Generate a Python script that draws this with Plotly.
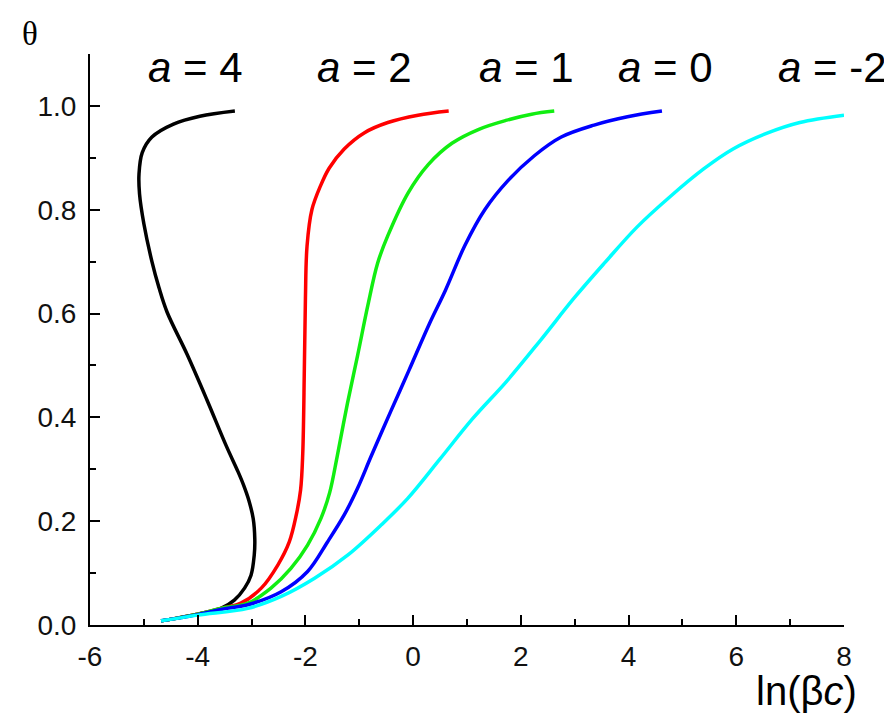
import plotly.graph_objects as go

# ---- data (x = ln(beta c), theta) ----
a_labels = ["<i>a</i> = 4", "<i>a</i> = 2", "<i>a</i> = 1", "<i>a</i> = 0", "<i>a</i> = -2"]
label_x = [-4.05, -0.91, 2.11, 4.68, 7.78]
label_y = [1.074, 1.074, 1.074, 1.074, 1.074]
colors = ["#000000", "#ff0000", "#11ee11", "#0000ff", "#00ffff"]

x_a4 = [-4.68, -4.0, -3.57, -3.32, -3.13, -3.01, -2.95, -2.94, -2.97, -3.05, -3.15, -3.25,
        -3.47, -3.83, -4.20, -4.57, -4.72, -4.85, -5.0, -5.08, -5.09, -5.03, -4.85, -4.45,
        -3.96, -3.31]
t_a4 = [0.008, 0.021, 0.032, 0.048, 0.071, 0.096, 0.135, 0.165, 0.205, 0.24, 0.27, 0.295,
        0.345, 0.434, 0.522, 0.603, 0.65, 0.70, 0.773, 0.83, 0.869, 0.91, 0.94, 0.965,
        0.98, 0.99]

x_a2 = [-4.68, -4.0, -3.57, -3.2, -2.82, -2.51, -2.30, -2.17, -2.09, -2.05, -2.02, -2.0,
        -1.97, -1.88, -1.72, -1.56, -1.28, -0.91, -0.47, 0.09, 0.66]
t_a2 = [0.008, 0.021, 0.032, 0.042, 0.071, 0.116, 0.16, 0.212, 0.26, 0.33, 0.494, 0.63,
        0.73, 0.80, 0.846, 0.88, 0.917, 0.948, 0.968, 0.982, 0.99]

x_a1 = [-4.68, -4.0, -3.57, -3.07, -2.64, -2.27, -1.96, -1.71, -1.55, -1.41, -1.22, -1.03,
        -0.84, -0.66, -0.47, -0.09, 0.28, 0.72, 1.22, 1.72, 2.2, 2.62]
t_a1 = [0.008, 0.021, 0.032, 0.042, 0.071, 0.109, 0.154, 0.206, 0.255, 0.325, 0.427, 0.52,
        0.616, 0.697, 0.75, 0.833, 0.887, 0.928, 0.955, 0.972, 0.984, 0.99]

x_a0 = [-4.68, -4.0, -3.57, -3.07, -2.45, -1.96, -1.59, -1.28, -1.03, -0.78, -0.41, -0.08,
        0.3, 0.6, 0.96, 1.33, 1.76, 2.25, 2.75, 3.36, 3.98, 4.62]
t_a0 = [0.008, 0.02, 0.03, 0.039, 0.064, 0.103, 0.16, 0.212, 0.264, 0.325, 0.413, 0.49,
        0.58, 0.645, 0.731, 0.80, 0.856, 0.904, 0.94, 0.963, 0.979, 0.99]

x_am2 = [-4.68, -4.0, -3.07, -2.45, -1.83, -1.21, -0.59, -0.1, 0.5, 1.1, 1.74, 2.36, 2.99,
         3.55, 4.16, 4.78, 5.4, 5.94, 6.56, 7.18, 8.0]
t_am2 = [0.008, 0.019, 0.032, 0.055, 0.09, 0.135, 0.193, 0.244, 0.32, 0.397, 0.47, 0.548,
         0.63, 0.697, 0.767, 0.826, 0.879, 0.917, 0.947, 0.968, 0.982]

x_ticks = [-6, -4, -2, 0, 2, 4, 6, 8]
y_ticks = [0.0, 0.2, 0.4, 0.6, 0.8, 1.0]

series = [(x_a4, t_a4), (x_a2, t_a2), (x_a1, t_a1), (x_a0, t_a0), (x_am2, t_am2)]

fig = go.Figure()
for (xs, ts), col, name in zip(series, colors, a_labels):
    fig.add_trace(go.Scatter(x=xs, y=ts, mode="lines", name=name,
                             line=dict(color=col, width=3.5, shape="spline", smoothing=1.0),
                             showlegend=False, cliponaxis=False))

for txt, lx, ly in zip(a_labels, label_x, label_y):
    fig.add_annotation(x=lx, y=ly, xref="x", yref="y", text=txt, showarrow=False,
                       xanchor="center", yanchor="middle", borderpad=0,
                       font=dict(family="Liberation Sans, Arial", size=42, color="black"))

fig.add_annotation(xref="paper", yref="paper", x=-0.08, y=1.035, text="θ", showarrow=False,
                   xanchor="center", yanchor="middle", borderpad=0,
                   font=dict(family="Liberation Serif, Times New Roman", size=33, color="black"))
fig.add_annotation(xref="paper", yref="paper", x=1.02, y=-0.115, text="ln(β<i>c</i>)",
                   showarrow=False, xanchor="right", yanchor="middle",
                   font=dict(family="Liberation Sans, Arial", size=40, color="black"))

axis_common = dict(showline=True, linecolor="black", linewidth=2, showgrid=False,
                   zeroline=False, ticks="inside", ticklen=10, tickwidth=2, tickcolor="black",
                   tickfont=dict(family="Liberation Sans, Arial", size=28, color="#111111"))

fig.update_xaxes(range=[-6, 8], tickmode="array", tickvals=x_ticks,
                 ticktext=[str(v) for v in x_ticks],
                 minor=dict(dtick=1, tick0=-6, ticks="inside", ticklen=6, tickwidth=2,
                            tickcolor="black"),
                 ticklabelstandoff=5, **axis_common)
fig.update_yaxes(range=[0, 1.1], tickmode="array", tickvals=y_ticks,
                 ticktext=[f"{v:.1f}" for v in y_ticks],
                 minor=dict(dtick=0.1, tick0=0, ticks="inside", ticklen=6, tickwidth=2,
                            tickcolor="black"),
                 ticklabelstandoff=6, **axis_common)

fig.update_layout(width=892, height=717, autosize=False,
                  margin=dict(l=82, r=56, t=46, b=100),
                  plot_bgcolor="white", paper_bgcolor="white")

fig.write_html("out.html")
